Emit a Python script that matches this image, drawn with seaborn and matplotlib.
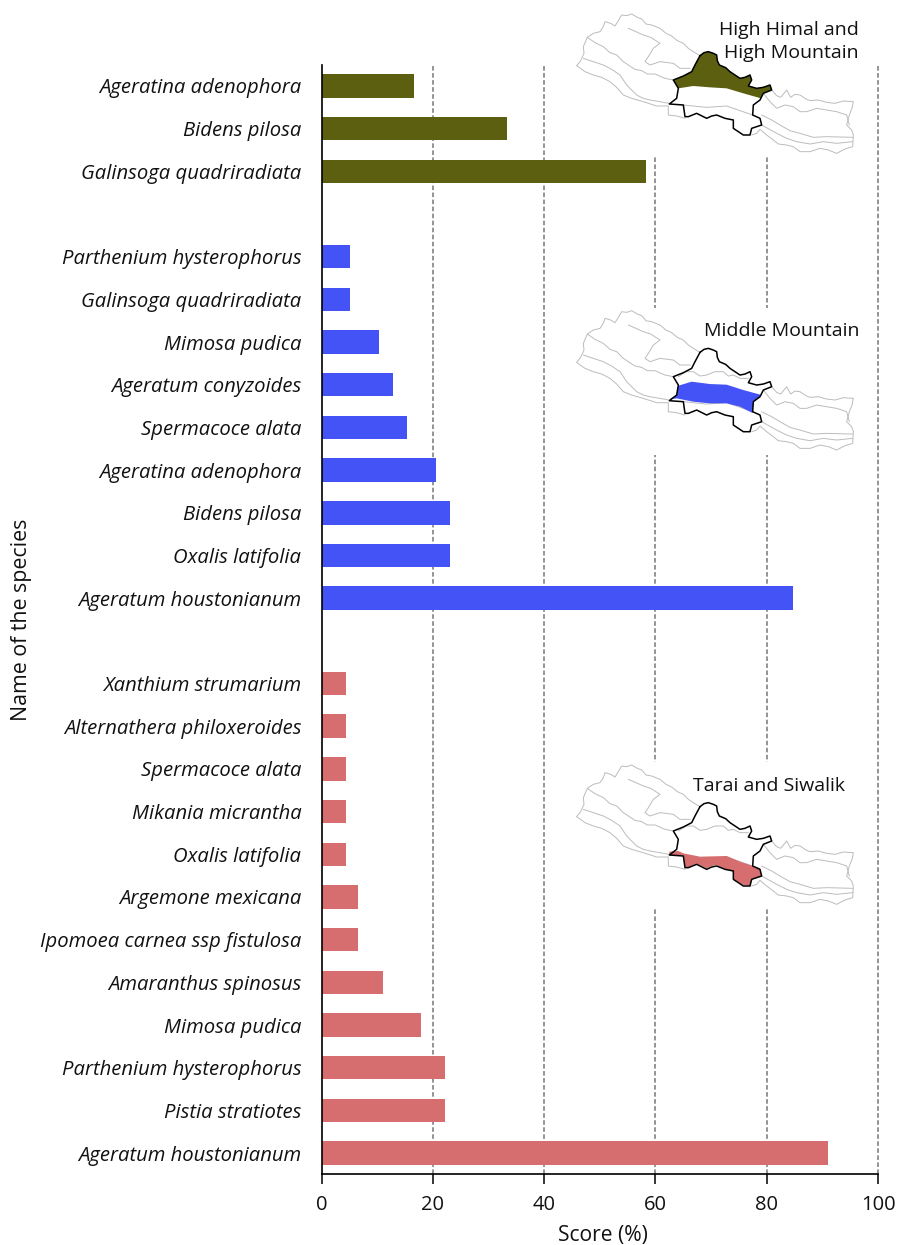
import pandas as pd
import numpy as np
import matplotlib.pyplot as plt
import seaborn as sns
from matplotlib.patches import Polygon, Rectangle

# ----------------------------------------------------------
# DATA
# ----------------------------------------------------------

high_species = ["Ageratina adenophora", "Bidens pilosa", "Galinsoga quadriradiata"]
high_scores = [16.7, 33.3, 58.3]

middle_species = ["Parthenium hysterophorus", "Galinsoga quadriradiata", "Mimosa pudica",
                  "Ageratum conyzoides", "Spermacoce alata", "Ageratina adenophora",
                  "Bidens pilosa", "Oxalis latifolia", "Ageratum houstonianum"]
middle_scores = [5.1, 5.1, 10.3, 12.8, 15.4, 20.5, 23.1, 23.1, 84.7]

tarai_species = ["Xanthium strumarium", "Alternathera philoxeroides", "Spermacoce alata",
                 "Mikania micrantha", "Oxalis latifolia", "Argemone mexicana",
                 "Ipomoea carnea ssp fistulosa", "Amaranthus spinosus", "Mimosa pudica",
                 "Parthenium hysterophorus", "Pistia stratiotes", "Ageratum houstonianum"]
tarai_scores = [4.4, 4.4, 4.4, 4.4, 4.4, 6.6, 6.6, 11.1, 17.8, 22.2, 22.2, 91.1]

zone_colors = {"high": "#5c5f10", "middle": "#4353f5", "tarai": "#d66d6e"}

# map outlines, traced by eye (pixels of the 3x crop)
outer_top = [(50, 197), (62, 182), (72, 160), (70, 140), (82, 112), (100, 100), (120, 95), (130, 80), (135, 65),
             (152, 70), (165, 78), (175, 62), (185, 45), (200, 47), (215, 42), (232, 52), (245, 57), (258, 72),
             (275, 75), (300, 85), (318, 100), (335, 108), (352, 122), (370, 130), (385, 145), (400, 155), (420, 167)]
outer_east = [(635, 270), (650, 287), (662, 292), (680, 270), (692, 292), (705, 283), (720, 285), (738, 297),
              (750, 302), (775, 300), (800, 307), (825, 310), (850, 303), (880, 305), (876, 325), (868, 345),
              (860, 375), (875, 390), (880, 405), (878, 440), (855, 447), (830, 460), (805, 450), (780, 445),
              (750, 455), (720, 455), (700, 440), (680, 435), (655, 432), (640, 420), (620, 405), (600, 388),
              (590, 400), (575, 405)]
outer_west = [(50, 197), (75, 215), (100, 225), (125, 232), (150, 245), (170, 262), (190, 285), (215, 295),
              (250, 305), (290, 318), (325, 318), (325, 345), (350, 348), (375, 355)]
central = [(420, 167), (432, 158), (445, 155), (460, 160), (470, 165), (472, 182), (478, 195), (497, 203), (510, 215),
           (525, 225), (540, 235), (555, 232), (570, 225), (575, 240), (565, 258), (590, 265), (610, 262), (630, 255),
           (635, 270), (610, 280), (600, 300), (580, 315), (578, 345), (600, 355), (605, 375), (575, 385), (570, 405),
           (550, 405), (520, 385), (520, 360), (495, 355), (470, 345), (455, 348), (440, 355), (410, 340), (385, 350),
           (375, 350), (370, 315), (328, 312), (350, 295), (355, 265), (340, 240), (370, 228), (395, 215), (405, 195)]
high_band = [(420, 167), (432, 158), (445, 155), (460, 160), (470, 165), (472, 182), (478, 195), (497, 203), (510, 215),
             (525, 225), (540, 235), (555, 232), (570, 225), (575, 240), (565, 258), (590, 265), (610, 262), (630, 255),
             (635, 270), (610, 280), (603, 295), (550, 280), (500, 265), (450, 262), (400, 258), (355, 265), (340, 240),
             (370, 228), (395, 215), (405, 195)]
middle_band = [(355, 267), (395, 255), (450, 262), (500, 264), (550, 280), (605, 295), (580, 315), (578, 349),
               (540, 330), (500, 320), (450, 320), (400, 315), (350, 305), (328, 308), (350, 295)]
tarai_band = [(328, 302), (355, 300), (370, 307), (420, 317), (500, 315), (540, 332), (600, 352), (605, 375), (575, 385),
              (570, 405), (550, 402), (520, 385), (520, 360), (495, 355), (470, 342), (455, 345), (440, 352), (410, 338),
              (385, 349), (375, 350), (370, 312), (328, 312)]
line_a = [(82, 112), (105, 128), (130, 140), (150, 158), (170, 165), (190, 185), (205, 195), (225, 208), (245, 212),
          (262, 222), (285, 222), (315, 235), (340, 240)]
line_b = [(70, 175), (100, 185), (130, 195), (155, 208), (180, 225), (200, 255), (230, 285), (250, 295), (270, 300), (328, 310)]
line_c = [(370, 315), (440, 322), (500, 318), (540, 332), (578, 345)]
line_d = [(605, 345), (635, 360), (660, 375), (690, 392), (720, 400), (760, 412), (800, 410), (878, 412)]
line_e = [(605, 375), (650, 400), (680, 415), (710, 425), (750, 432), (790, 425), (830, 430), (878, 425)]
line_f = [(610, 280), (630, 305), (650, 325), (675, 315), (700, 320), (720, 335), (740, 335), (770, 325), (800, 330),
          (830, 335), (860, 345), (868, 375)]
line_g = [(205, 85), (228, 95), (250, 105), (272, 112), (300, 130), (280, 145), (265, 170), (255, 185), (270, 195),
          (300, 185), (340, 190), (360, 205), (390, 205)]
line_h = [(355, 240), (378, 225), (400, 225), (420, 238), (440, 235), (465, 225), (490, 225), (505, 238), (520, 235),
          (540, 245), (565, 245)]

# ----------------------------------------------------------
# TABLE
# ----------------------------------------------------------

rows = []
for zone, names, scores, start in [("high", high_species, high_scores, 0),
                                   ("middle", middle_species, middle_scores, 4),
                                   ("tarai", tarai_species, tarai_scores, 14)]:
    for i in range(len(names)):
        rows.append({"row": start + i, "species": names[i], "score": scores[i], "zone": zone})
df = pd.DataFrame(rows)

# ----------------------------------------------------------
# PLOT
# ----------------------------------------------------------

sns.set_style("white")
plt.rcParams["font.family"] = ["Open Sans", "DejaVu Sans"]
plt.rcParams["text.color"] = "#111111"
plt.rcParams["axes.labelcolor"] = "#111111"
plt.rcParams["xtick.color"] = "#111111"
plt.rcParams["ytick.color"] = "#111111"

fig = plt.figure(figsize=(8.97, 12.45), dpi=100)
W, H = 897, 1245
ax = fig.add_axes([321.5 / W, 1 - 1174 / H, (878 - 321.5) / W, (1174 - 65) / H])

sns.barplot(data=df, x="score", y="row", hue="zone", palette=zone_colors, order=list(range(26)),
            orient="h", dodge=False, width=0.55, legend=False, saturation=1, linewidth=0, ax=ax, zorder=3)

ax.set_xlim(0, 100)
ax.set_ylim(25.49, -0.49)
ax.set_xticks([0, 20, 40, 60, 80, 100])
ax.set_yticks(df["row"])
ax.set_yticklabels(df["species"], style="italic", fontsize=14.6)
ax.tick_params(axis="y", length=0, pad=14.5)
ax.tick_params(axis="x", length=7, width=1.1, labelsize=14.5, pad=8, bottom=True, color="black")
ax.xaxis.grid(True, color="#777777", linestyle=(0, (3, 1.6)), linewidth=1.1)
ax.yaxis.grid(False)
ax.set_axisbelow(True)
grid = ax.get_xgridlines()
grid[0].set_visible(False)
grid[-1].set_clip_on(False)
ax.set_xlabel("Score (%)", fontsize=15.2, labelpad=7, x=0.505)
ax.set_ylabel("")
fig.text(22 / W, 1 - 620 / H, "Name of the species", rotation=90, fontsize=15.4, ha="center", va="center")

sns.despine(ax=ax, top=True, right=True)
for side in ["left", "bottom"]:
    ax.spines[side].set_color("black")
    ax.spines[side].set_linewidth(1.2)
    ax.spines[side].set_zorder(6)

# ----------------------------------------------------------
# MAP INSETS
# ----------------------------------------------------------

def draw_map(box_top, box_bottom, origin_y, band, color, label, label_right, label_y):
    # white box hides the grid behind the map
    fig.add_artist(Rectangle((565 / W, 1 - box_bottom / H), 303 / W, (box_bottom - box_top) / H,
                             transform=fig.transFigure, facecolor="white", edgecolor="none", zorder=4))
    # crop pixels map 3:1 on the figure
    m = fig.add_axes([560 / W, 1 - (origin_y + 170) / H, 320 / W, 170 / H], zorder=5)
    m.set_xlim(0, 960)
    m.set_ylim(510, 0)
    m.axis("off")
    m.patch.set_alpha(0)
    m.add_patch(Polygon(band, closed=True, facecolor=color, edgecolor="none", zorder=2))
    for part in [outer_top, outer_east, outer_west, line_a, line_b, line_c, line_d, line_e, line_f, line_g, line_h]:
        part = np.array(part)
        m.plot(part[:, 0], part[:, 1], color="#bcbcbc", linewidth=0.7, zorder=1)
    c = np.array(central + central[:1])
    m.plot(c[:, 0], c[:, 1], color="black", linewidth=1.1, zorder=3)
    fig.text(label_right / W, 1 - label_y / H, label, fontsize=14, ha="right", va="center",
             zorder=6, linespacing=1.4)

draw_map(65, 157, 0, high_band, zone_colors["high"], "High Himal and\nHigh Mountain", 859, 41.5)
draw_map(308, 455, 296.7, middle_band, zone_colors["middle"], "Middle Mountain", 859, 331)
draw_map(762, 908, 751, tarai_band, zone_colors["tarai"], "Tarai and Siwalik", 845, 786)

plt.savefig("out.png", dpi=100)
